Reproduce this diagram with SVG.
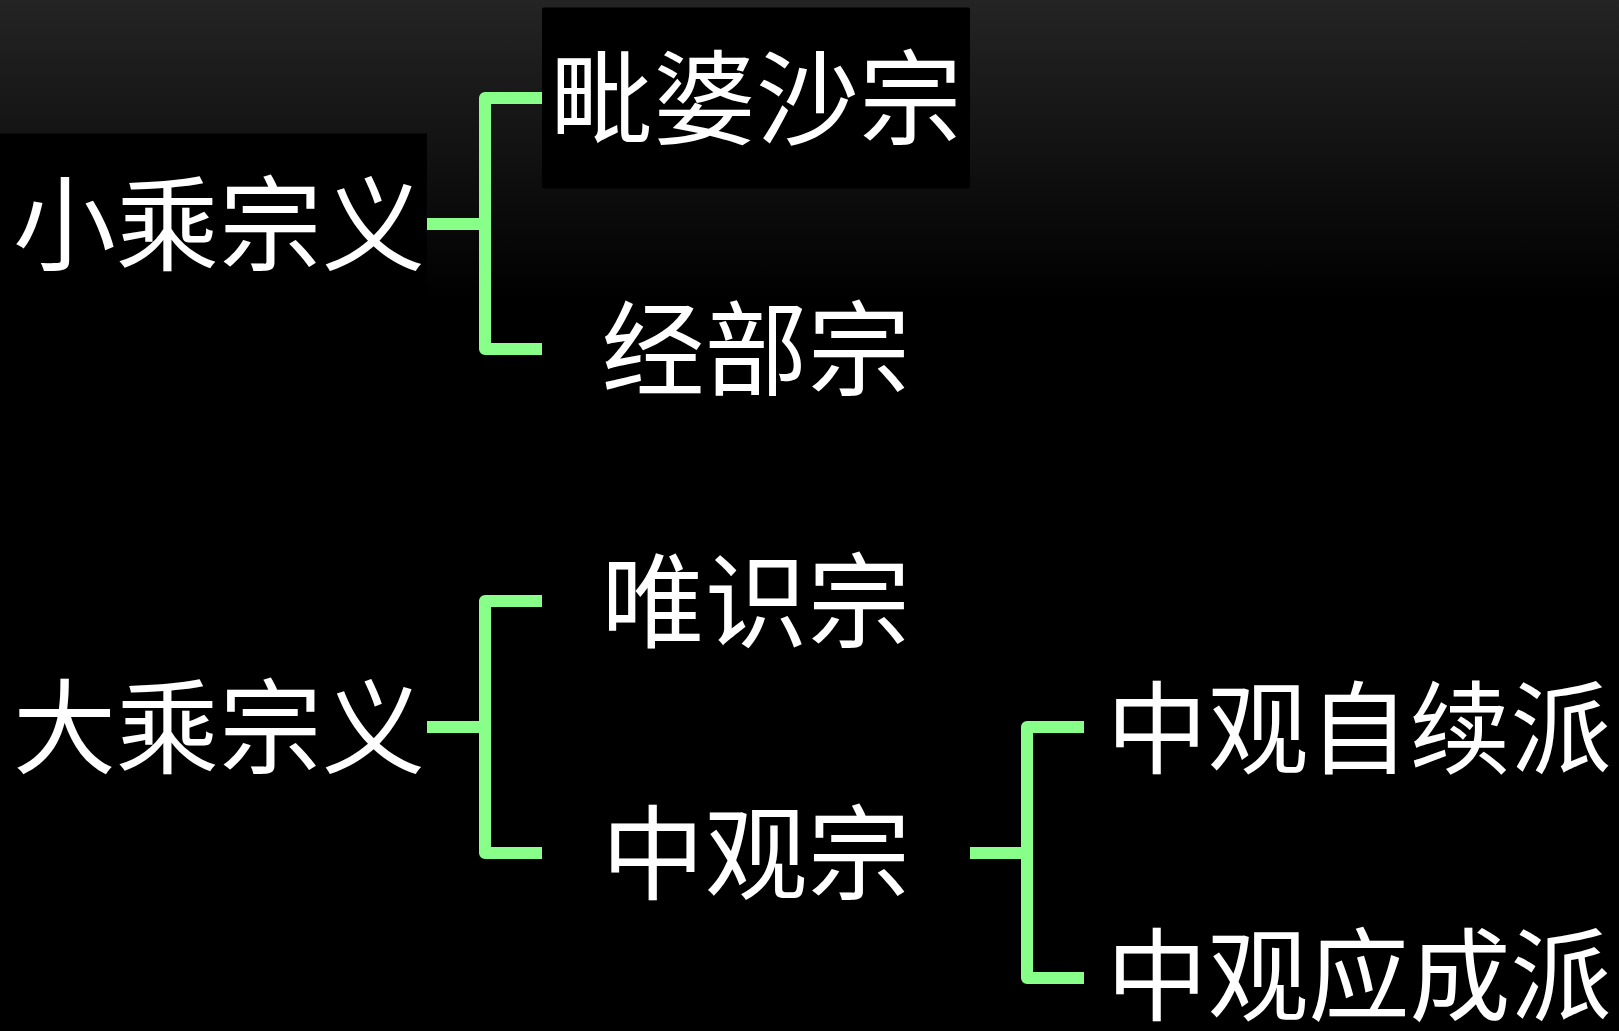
<svg xmlns="http://www.w3.org/2000/svg" width="1619" height="1031" viewBox="0 0 1619 1031">
  <defs>
    <linearGradient id="bg" x1="0" y1="0" x2="0" y2="300" gradientUnits="userSpaceOnUse">
      <stop offset="0" stop-color="#242424"/>
      <stop offset="1" stop-color="#000000"/>
    </linearGradient>
    <style>
      .box { fill: #000000; }
      .lbl { fill: #ffffff; font-family: "Noto Sans CJK SC", "Noto Sans CJK JP", sans-serif; font-size: 103px; text-anchor: middle; }
      .lbl5 { font-size: 101px; }
      .conn { fill: none; stroke: #88ff88; stroke-width: 12; stroke-linejoin: round; stroke-linecap: butt; }
    </style>
  </defs>
  <rect x="0" y="0" width="1619" height="1031" fill="url(#bg)"/>

  <g id="connectors">
    <path class="conn" d="M427,224 H485 M542,98 H485 V349 H542"/>
    <path class="conn" d="M427,727 H485 M542,601 H485 V853 H542"/>
    <path class="conn" d="M970,853 H1027 M1084,727 H1027 V978 H1084"/>
  </g>

  <g id="node-xiaosheng">
    <rect class="box" x="0" y="133.5" width="427" height="181"/>
    <text class="lbl" x="219" y="263">小乘宗义</text>
  </g>
  <g id="node-piposha">
    <rect class="box" x="542" y="7.5" width="428" height="181" rx="2"/>
    <text class="lbl" x="756" y="137">毗婆沙宗</text>
  </g>
  <g id="node-jingbu">
    <text class="lbl" x="756" y="388">经部宗</text>
  </g>
  <g id="node-dasheng">
    <text class="lbl" x="219" y="766">大乘宗义</text>
  </g>
  <g id="node-weishi">
    <text class="lbl" x="756" y="640">唯识宗</text>
  </g>
  <g id="node-zhongguan">
    <text class="lbl" x="756" y="892">中观宗</text>
  </g>
  <g id="node-zixu">
    <text class="lbl lbl5" x="1359" y="766">中观自续派</text>
  </g>
  <g id="node-yingcheng">
    <text class="lbl lbl5" x="1359" y="1013">中观应成派</text>
  </g>
</svg>
